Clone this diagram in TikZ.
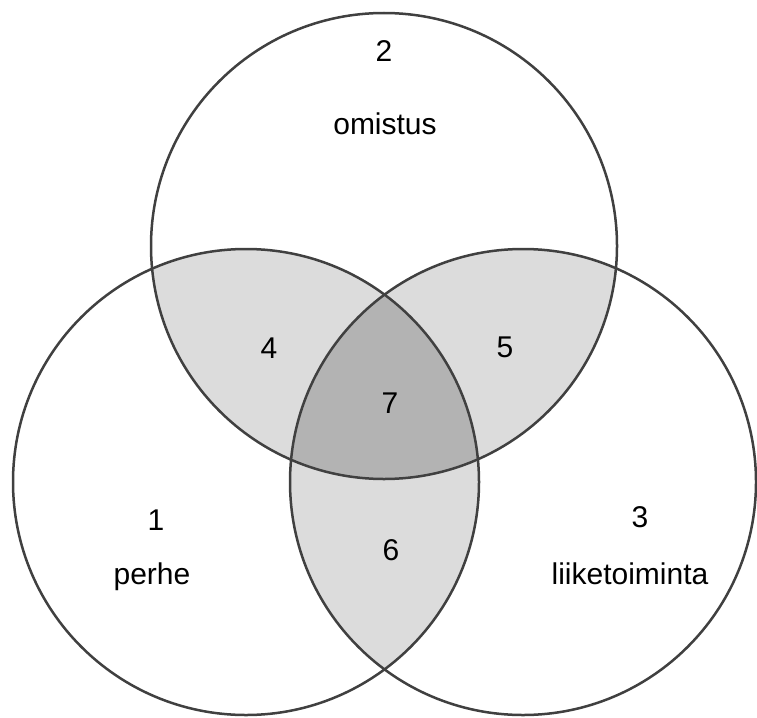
\documentclass[tikz,border=0pt]{standalone}
\usepackage{fontspec}
\setmainfont{Liberation Sans}
\definecolor{lightgr}{HTML}{DCDCDC}
\definecolor{darkgr}{HTML}{B3B3B3}
\definecolor{edge}{HTML}{404040}
\tikzset{
  ring/.style={draw=edge, line width=2.5pt},
  lbl/.style={font=\fontsize{30}{34}\selectfont, text=black, inner sep=0pt}
}
\begin{document}
\begin{tikzpicture}[x=1pt,y=-1pt]
\useasboundingbox (0,0) rectangle (757,717);
\fill[white] (0,0) rectangle (757,717);
\def\R{233}
\coordinate (T) at (384,246);
\coordinate (L) at (246,482);
\coordinate (Rc) at (523,482);
% pairwise intersections
\begin{scope}
  \clip (T) circle (\R);
  \fill[lightgr] (L) circle (\R);
  \fill[lightgr] (Rc) circle (\R);
\end{scope}
\begin{scope}
  \clip (L) circle (\R);
  \fill[lightgr] (Rc) circle (\R);
\end{scope}
% triple intersection
\begin{scope}
  \clip (T) circle (\R);
  \clip (L) circle (\R);
  \fill[darkgr] (Rc) circle (\R);
\end{scope}
\draw[ring] (T) circle (\R);
\draw[ring] (L) circle (\R);
\draw[ring] (Rc) circle (\R);
% labels
\node[lbl] (n2) at (384,51) {2};
\node[lbl] (omistus) at (385,124) {omistus};
\node[lbl] (n4) at (269,348) {4};
\node[lbl] (n5) at (505,347) {5};
\node[lbl] (n7) at (390,403) {7};
\node[lbl] (n1) at (156,520) {1};
\node[lbl] (perhe) at (152,577) {perhe};
\node[lbl] (n6) at (391,550) {6};
\node[lbl] (n3) at (640,517) {3};
\node[lbl] (liike) at (630,574) {liiketoiminta};
\end{tikzpicture}
\end{document}
